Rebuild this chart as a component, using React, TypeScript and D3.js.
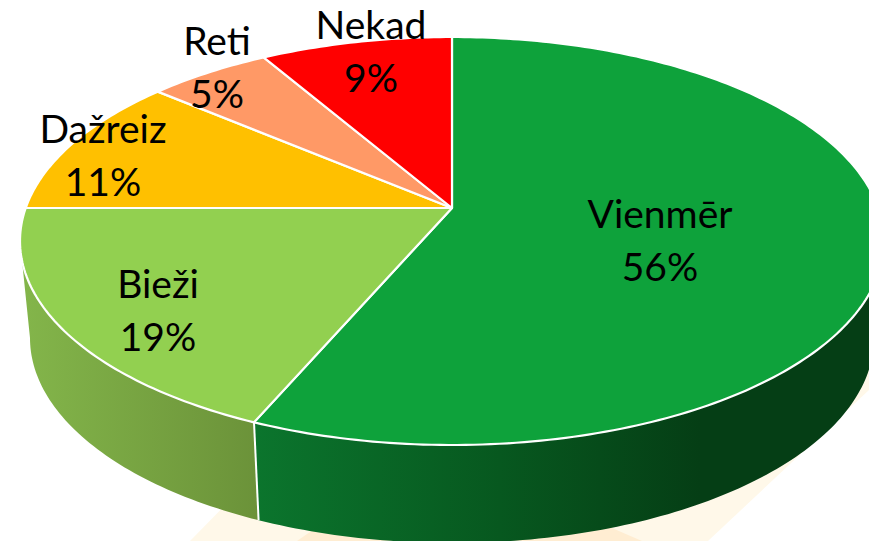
import React from "react";
import * as d3 from "d3";

// slice sizes, percents as printed on the labels
const categories = ["Vienmēr", "Bieži", "Dažreiz", "Reti", "Nekad"];
const shares = [56.47, 18.53, 11.2, 5.4, 8.4];
const percents = [56, 19, 11, 5, 9];
const colors = ["#0ea23b", "#92d050", "#ffc000", "#ff9966", "#ff0000"];
const labelX = [660, 158, 103, 217, 371];
const labelY = [213, 283, 128, 40, 24];

const width = 869;
const height = 541;

// the tilted disc: top ellipse, bottom ellipse and the apex of the slices
const cx = 452;
const topCy = 241;
const apexY = 208;
const topRx = 432;
const topRy = 204;
const botCy = 338;
const botRx = 422;
const botRy = 205;

// perspective from the flat circle to the screen
const upper = apexY - (topCy - topRy);
const lower = topCy + topRy - apexY;
const k = (lower - upper) / (lower + upper);
const b = upper * (1 + k);
const a = topRx * Math.sqrt(1 - k * k);

function topPoint(angle: number): [number, number] {
  const u = Math.sin(angle);
  const v = Math.cos(angle);
  const w = 1 + k * v;
  return [cx + (a * u) / w, apexY - (b * v) / w];
}

function bottomPoint(angle: number): [number, number] {
  const [x, y] = topPoint(angle);
  return [cx + ((x - cx) * botRx) / topRx, botCy + ((y - topCy) * botRy) / topRy];
}

function angles(start: number, end: number) {
  const n = Math.max(2, Math.ceil((end - start) * 60));
  return d3.range(n + 1).map((i) => start + ((end - start) * i) / n);
}

const line = d3.line();

const arcs = d3
  .pie<number>()
  .sort(null)
  .startAngle(0)
  .endAngle(2 * Math.PI)(shares);

// the side wall is only visible between the two tangent points
const silhouette = Math.acos(-k);
const wallStart = silhouette;
const wallEnd = 2 * Math.PI - silhouette;

function topPath(d: d3.PieArcDatum<number>) {
  return line([[cx, apexY], ...angles(d.startAngle, d.endAngle).map(topPoint)]) + "Z";
}

function wallPath(start: number, end: number) {
  const pts = angles(start, end);
  return line([...pts.map(topPoint), ...pts.slice().reverse().map(bottomPoint)]) + "Z";
}

const seamAngle = arcs[0].endAngle;

export default function App() {
  return (
    <svg
      width={width}
      height={height}
      style={{ position: "absolute", left: 0, top: 0, background: "#fff" }}
    >
      <defs>
        <linearGradient id="wallDark" gradientUnits="userSpaceOnUse" x1={255} x2={700} y1={0} y2={0}>
          <stop offset="0" stopColor="#0b752d" />
          <stop offset="0.55" stopColor="#07581f" />
          <stop offset="1" stopColor="#053e15" />
        </linearGradient>
        <linearGradient id="wallLight" gradientUnits="userSpaceOnUse" x1={25} x2={259} y1={0} y2={0}>
          <stop offset="0" stopColor="#83b54a" />
          <stop offset="1" stopColor="#6b9239" />
        </linearGradient>
      </defs>

      {/* faint backdrop shape showing under the pie */}
      <polygon points="190,541 240,490 869,340 869,390 708,541" fill="#fff8e9" />
      <polygon points="297,541 320,525 605,525 642,541" fill="#ffedd2" />

      <path d={wallPath(wallStart, seamAngle)} fill="url(#wallDark)" />
      <path d={wallPath(seamAngle, wallEnd)} fill="url(#wallLight)" />
      <path
        d={line([topPoint(seamAngle), bottomPoint(seamAngle)]) ?? ""}
        stroke="#fff"
        strokeWidth={2}
        fill="none"
      />

      {arcs.map((d, i) => (
        <path
          key={categories[i]}
          d={topPath(d)}
          fill={colors[i]}
          stroke="#fff"
          strokeWidth={2.2}
          strokeLinejoin="round"
        />
      ))}

      <g fontFamily="Lato, sans-serif" fontSize={39} fill="#000" textAnchor="middle">
        {categories.map((c, i) => (
          <text key={c} x={labelX[i]} y={labelY[i]} dominantBaseline="central">
            <tspan x={labelX[i]}>{c}</tspan>
            <tspan x={labelX[i]} dy={52.5}>
              {percents[i]}%
            </tspan>
          </text>
        ))}
      </g>
    </svg>
  );
}
